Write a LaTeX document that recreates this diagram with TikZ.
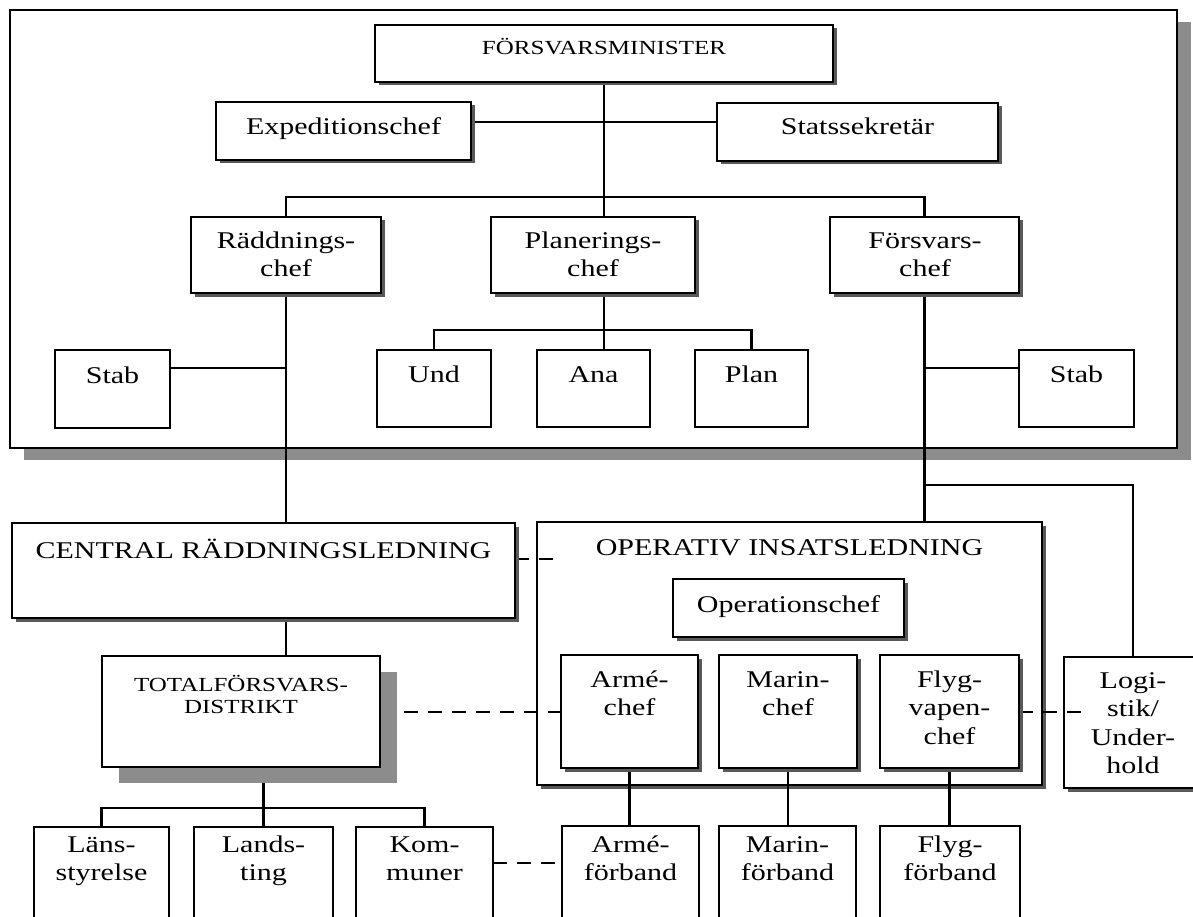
\documentclass[tikz,border=0pt]{standalone}
\usepackage{fontspec}
\setmainfont{Liberation Serif}[FakeStretch=1.25]
\usetikzlibrary{shadows,calc}
\pgfdeclarelayer{back}
\pgfdeclarelayer{links}
\pgfsetlayers{back,links,main}
\tikzset{
  box/.style={draw, line width=2.1pt, fill=white, inner sep=0pt, outer sep=0pt},
  sbox/.style={box, drop shadow={opacity=1, fill=black!65, shadow xshift=3.5pt, shadow yshift=-3.5pt}},
  bigbox/.style={box, drop shadow={opacity=1, fill=black!45, shadow xshift=14pt, shadow yshift=-12pt}},
  totbox/.style={box, drop shadow={opacity=1, fill=black!45, shadow xshift=17pt, shadow yshift=-16pt}},
  txt/.style={inner sep=0pt, align=center, font=\fontsize{24}{28.5}\selectfont},
  captxt/.style={inner sep=0pt, align=center, font=\fontsize{24}{28}\selectfont},
  smallcap/.style={inner sep=0pt, align=center, font=\fontsize{20}{22.5}\selectfont},
  conn/.style={line width=2.8pt},
  dashconn/.style={line width=2.8pt, dash pattern=on 14pt off 10pt},
}
\newcommand\mybox[6][box]{\node[#1, minimum width={(#5-#3)*1pt}, minimum height={(#6-#4)*1pt}] (#2) at ({(#3+#5)/2},{(#4+#6)/2}) {};}
\begin{document}
\begin{tikzpicture}[x=1pt,y=-1pt]
\useasboundingbox (0,0) rectangle (1193,917);
\begin{pgfonlayer}{back}
  \fill[white] (0,0) rectangle (1193,917);
  \mybox[bigbox]{outer}{10}{10}{1177}{448}
  \mybox[sbox]{operativ}{537}{522}{1042}{785}
  \mybox[sbox]{logist}{1064}{657}{1202}{788}
\end{pgfonlayer}
% boxes
\mybox[sbox]{minister}{375}{25}{833}{82}
\mybox[sbox]{exped}{216}{102}{471}{160}
\mybox[sbox]{stats}{717}{103}{998}{161}
\mybox[sbox]{raddn}{191}{217}{381}{293}
\mybox[sbox]{planer}{491}{217}{695}{293}
\mybox[sbox]{forsv}{830}{217}{1019}{293}
\mybox{stabL}{55}{350}{170}{428}
\mybox{und}{377}{350}{491}{427}
\mybox{ana}{537}{350}{650}{427}
\mybox{plan}{695}{350}{808}{427}
\mybox{stabR}{1019}{350}{1134}{427}
\mybox[sbox]{central}{12}{523}{515}{618}
\mybox[sbox]{opchef}{673}{579}{904}{637}
\mybox[sbox]{armeC}{561}{655}{698}{768}
\mybox[sbox]{marinC}{719}{655}{857}{768}
\mybox[sbox]{flygC}{880}{655}{1019}{768}
\mybox[totbox]{total}{102}{656}{380}{767}
\mybox{lans}{34}{827}{169}{935}
\mybox{lands}{194}{827}{333}{935}
\mybox{kommun}{356}{827}{493}{935}
\mybox{armeF}{562}{826}{699}{935}
\mybox{marinF}{719}{826}{856}{935}
\mybox{flygF}{880}{826}{1020}{935}
% texts (anchor=base is the baseline of the last line)
\node[smallcap, anchor=base] (ministerT) at (604,55) {FÖRSVARSMINISTER};
\node[txt, anchor=base] (expedT) at (343.5,135) {Expeditionschef};
\node[txt, anchor=base] (statsT) at (857.5,135) {Statssekretär};
\node[txt, anchor=base] (raddnT) at (286,276.5) {Räddnings-\\chef};
\node[txt, anchor=base] (planerT) at (593,276.5) {Planerings-\\chef};
\node[txt, anchor=base] (forsvT) at (925,276.5) {Försvars-\\chef};
\node[txt, anchor=base] (stabLT) at (112.5,383) {Stab};
\node[txt, anchor=base] (undT) at (434,382) {Und};
\node[txt, anchor=base] (anaT) at (593.5,382) {Ana};
\node[txt, anchor=base] (planT) at (751.5,382) {Plan};
\node[txt, anchor=base] (stabRT) at (1076.5,382) {Stab};
\node[captxt, anchor=base] (centralT) at (263.5,558) {CENTRAL RÄDDNINGSLEDNING};
\node[captxt, anchor=base] (operativT) at (789.5,555) {OPERATIV INSATSLEDNING};
\node[txt, anchor=base] (opchefT) at (788.5,612) {Operationschef};
\node[txt, anchor=base] (armeCT) at (629.5,715.5) {Armé-\\chef};
\node[txt, anchor=base] (marinCT) at (788,715.5) {Marin-\\chef};
\node[txt, anchor=base] (flygCT) at (949.5,744) {Flyg-\\vapen-\\chef};
\node[txt, anchor=base] (logistT) at (1133,773.5) {Logi-\\stik/\\Under-\\hold};
\node[smallcap, anchor=base] (totalT) at (241,713.5) {TOTALFÖRSVARS-\\DISTRIKT};
\node[txt, anchor=base] (lansT) at (101.5,880.5) {Läns-\\styrelse};
\node[txt, anchor=base] (landsT) at (263.5,880.5) {Lands-\\ting};
\node[txt, anchor=base] (kommunT) at (424.5,880.5) {Kom-\\muner};
\node[txt, anchor=base] (armeFT) at (630.5,880.5) {Armé-\\förband};
\node[txt, anchor=base] (marinFT) at (787.5,880.5) {Marin-\\förband};
\node[txt, anchor=base] (flygFT) at (950,880.5) {Flyg-\\förband};
% rail heights
\coordinate (yA) at (0,122);
\coordinate (yB) at (0,197);
\coordinate (yC) at (0,330);
\coordinate (yD) at (0,368);
\coordinate (yE) at (0,485);
\coordinate (yG) at (0,808);
\coordinate (yH) at (0,559);
\coordinate (yI) at (0,712);
\coordinate (yJ) at (0,863);
\begin{pgfonlayer}{links}
  \draw[conn] (minister.south) -- (minister.south |- ana.north);
  \draw[conn] (exped.east |- yA) -- (stats.west |- yA);
  \draw[conn] (raddn.north) -- (raddn.north |- yB) -| (forsv.north);
  \draw[conn] (und.north) -- (und.north |- yC) -- (plan.north |- yC) -- (plan.north);
  \draw[conn] (raddn.south) -- (raddn.south |- central.north);
  \draw[conn] (stabL.east |- yD) -- (yD -| raddn.south);
  \draw[conn] (forsv.south) -- (forsv.south |- operativ.north);
  \draw[conn] (stabR.west |- yD) -- (yD -| forsv.south);
  \draw[conn] (forsv.south |- yE) -| (logist.north);
  \draw[conn] (central.south -| raddn.south) -- (total.north -| raddn.south);
  \draw[conn] (lands.north |- total.south) -- (lands.north);
  \draw[conn] (lans.north) -- (lans.north |- yG) -- (kommun.north |- yG) -- (kommun.north);
  \draw[conn] (armeC.south) -- (armeC.south |- armeF.north);
  \draw[conn] (marinC.south) -- (marinC.south |- marinF.north);
  \draw[conn] (flygC.south) -- (flygC.south |- flygF.north);
  \draw[dashconn] (central.east |- yH) -- ($(operativ.west |- yH)+(20,0)$);
  \draw[dashconn] (total.east |- yI) -- (armeC.west |- yI);
  \draw[dashconn] (flygC.east |- yI) -- ($(logist.west |- yI)+(19,0)$);
  \draw[dashconn] (kommun.east |- yJ) -- (armeF.west |- yJ);
\end{pgfonlayer}
\end{tikzpicture}
\end{document}
